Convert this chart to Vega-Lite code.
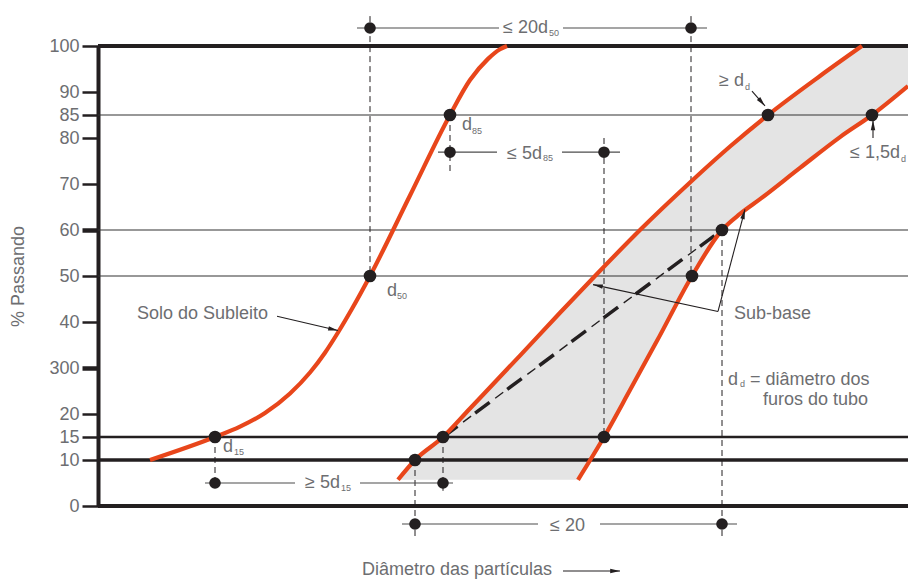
{
  "$schema": "https://vega.github.io/schema/vega-lite/v6.json",
  "width": 810,
  "height": 460,
  "autosize": {"type": "none"},
  "padding": {"left": 98, "top": 46, "right": 0, "bottom": 74},
  "background": "white",
  "config": {"view": {"stroke": null}, "text": {"font": "Liberation Sans"}},
  "datasets": {
    "curves": [
      {"c": "A", "x": 5.2, "y": 10}, {"c": "A", "x": 11.7, "y": 15}, {"c": "A", "x": 14.2, "y": 17.24}, {"c": "A", "x": 16.7, "y": 20.22},
      {"c": "A", "x": 19.2, "y": 24.46}, {"c": "A", "x": 21.2, "y": 29.02}, {"c": "A", "x": 22.7, "y": 33.33}, {"c": "A", "x": 24.0, "y": 37.72},
      {"c": "A", "x": 25.4, "y": 42.87}, {"c": "A", "x": 27.2, "y": 50}, {"c": "A", "x": 31.2, "y": 67.5},
      {"c": "A", "x": 35.2, "y": 85}, {"c": "A", "x": 37.2, "y": 92.6}, {"c": "A", "x": 39.0, "y": 97.2}, {"c": "A", "x": 40.2, "y": 99.3},
      {"c": "A", "x": 40.9, "y": 100},
      {"c": "B", "x": 30.0, "y": 5.7}, {"c": "B", "x": 31.7, "y": 10}, {"c": "B", "x": 34.5, "y": 15}, {"c": "B", "x": 37.2, "y": 21.2},
      {"c": "B", "x": 42.2, "y": 32.7}, {"c": "B", "x": 46.2, "y": 42.0}, {"c": "B", "x": 49.7, "y": 50}, {"c": "B", "x": 54.2, "y": 60},
      {"c": "B", "x": 59.2, "y": 70.33}, {"c": "B", "x": 63.2, "y": 78.15}, {"c": "B", "x": 67.0, "y": 85}, {"c": "B", "x": 72.2, "y": 93.48},
      {"c": "B", "x": 76.4, "y": 100},
      {"c": "C", "x": 48.0, "y": 5.7}, {"c": "C", "x": 50.6, "y": 15}, {"c": "C", "x": 53.2, "y": 25.2}, {"c": "C", "x": 55.9, "y": 35.9},
      {"c": "C", "x": 59.4, "y": 50}, {"c": "C", "x": 62.4, "y": 60}, {"c": "C", "x": 64.2, "y": 63.5}, {"c": "C", "x": 66.2, "y": 66.7},
      {"c": "C", "x": 70.2, "y": 73.5}, {"c": "C", "x": 74.2, "y": 80.2}, {"c": "C", "x": 77.4, "y": 85}, {"c": "C", "x": 81.0, "y": 91.3}
    ],
    "band": [
      {"y": 5.7, "xl": 30.0, "xr": 48.0}, {"y": 10, "xl": 31.7, "xr": 49.2}, {"y": 15, "xl": 34.5, "xr": 50.6},
      {"y": 20, "xl": 36.7, "xr": 51.9}, {"y": 25, "xl": 38.8, "xr": 53.2}, {"y": 30, "xl": 41.0, "xr": 54.4},
      {"y": 35, "xl": 43.2, "xr": 55.7}, {"y": 40, "xl": 45.3, "xr": 56.9}, {"y": 45, "xl": 47.5, "xr": 58.2},
      {"y": 50, "xl": 49.7, "xr": 59.4}, {"y": 55, "xl": 52.0, "xr": 60.9}, {"y": 60, "xl": 54.2, "xr": 62.4},
      {"y": 65, "xl": 56.6, "xr": 65.1}, {"y": 70, "xl": 59.0, "xr": 68.1}, {"y": 75, "xl": 61.6, "xr": 71.1},
      {"y": 80, "xl": 64.2, "xr": 74.1}, {"y": 85, "xl": 67.0, "xr": 77.4}, {"y": 90, "xl": 70.1, "xr": 80.3},
      {"y": 91.3, "xl": 70.9, "xr": 81.0}, {"y": 95, "xl": 73.2, "xr": 81.0}, {"y": 100, "xl": 76.4, "xr": 81.0}
    ],
    "grid": [
      {"level": "thin", "y": 85, "x": 0, "x2": 81}, {"level": "thin", "y": 60, "x": 0, "x2": 81}, {"level": "thin", "y": 50, "x": 0, "x2": 81},
      {"level": "l15", "y": 15, "x": 0, "x2": 81}, {"level": "l10", "y": 10, "x": 0, "x2": 81},
      {"level": "edge", "y": 0, "x": 0, "x2": 81}, {"level": "edge", "y": 100, "x": 0, "x2": 81}
    ],
    "cpoints": [
      {"x": 11.7, "y": 15}, {"x": 27.2, "y": 50}, {"x": 35.2, "y": 85},
      {"x": 31.7, "y": 10}, {"x": 34.5, "y": 15}, {"x": 67.0, "y": 85},
      {"x": 50.6, "y": 15}, {"x": 59.4, "y": 50}, {"x": 62.4, "y": 60}, {"x": 77.4, "y": 85}
    ],
    "apoints": [
      {"x": 27.2, "y": 103.91}, {"x": 59.3, "y": 103.91}, {"x": 35.2, "y": 76.91}, {"x": 50.6, "y": 76.91},
      {"x": 11.7, "y": 5.0}, {"x": 34.5, "y": 5.0}, {"x": 31.7, "y": -3.91}, {"x": 62.4, "y": -3.91}
    ],
    "vdash": [
      {"x": 27.2, "y": 106.5, "y2": 50}, {"x": 59.3, "y": 106.5, "y2": 50}, {"x": 35.2, "y": 85, "y2": 72.6},
      {"x": 50.6, "y": 80, "y2": 15}, {"x": 11.7, "y": 15, "y2": 5.0}, {"x": 34.5, "y": 15, "y2": 3.3},
      {"x": 31.7, "y": 10, "y2": -6.7}, {"x": 62.4, "y": 60, "y2": -6.7}
    ],
    "hseg": [
      {"x": 25.9, "x2": 40.1, "y": 103.91}, {"x": 46.5, "x2": 60.9, "y": 103.91},
      {"x": 34.0, "x2": 39.9, "y": 76.91}, {"x": 46.4, "x2": 52.2, "y": 76.91},
      {"x": 10.7, "x2": 19.7, "y": 5.0}, {"x": 26.2, "x2": 35.5, "y": 5.0},
      {"x": 30.4, "x2": 44.0, "y": -3.91}, {"x": 50.2, "x2": 63.9, "y": -3.91}
    ],
    "arrows": [
      {"x": 17.9, "y": 41.25, "x2": 24.0, "y2": 38.14},
      {"x": 62.0, "y": 42.29, "x2": 49.5, "y2": 48.13},
      {"x": 62.0, "y": 42.29, "x2": 64.7, "y2": 64.49},
      {"x": 65.4, "y": 90.21, "x2": 66.7, "y2": 86.96},
      {"x": 77.5, "y": 80, "x2": 77.5, "y2": 83.85},
      {"x": 46.5, "y": -14.13, "x2": 52.2, "y2": -14.13}
    ],
    "labels": [
      {"text": "≤ 20d", "x": 40.5, "y": 102.83},
      {"text": "≤ 5d", "x": 40.9, "y": 75.46},
      {"text": "≥ 5d", "x": 20.7, "y": 3.81},
      {"text": "≤ 20", "x": 45.2, "y": -5.43},
      {"text": "d", "x": 36.4, "y": 81.73},
      {"text": "d", "x": 28.9, "y": 45.63},
      {"text": "d", "x": 12.5, "y": 11.8},
      {"text": "Solo do Subleito", "x": 3.9, "y": 40.63},
      {"text": "Sub-base", "x": 63.6, "y": 40.63},
      {"text": "≥ d", "x": 62.1, "y": 91.28},
      {"text": "≤ 1,5d", "x": 75.2, "y": 75.67},
      {"text": "d", "x": 63.0, "y": 26.33},
      {"text": "= diâmetro dos", "x": 65.2, "y": 26.33},
      {"text": "furos do tubo", "x": 66.5, "y": 22.04},
      {"text": "Diâmetro das partículas", "x": 26.4, "y": -14.9}
    ],
    "subs": [
      {"text": "50", "x": 45.1, "y": 102.17},
      {"text": "85", "x": 44.5, "y": 75.05},
      {"text": "15", "x": 24.3, "y": 3.33},
      {"text": "85", "x": 37.4, "y": 80.96},
      {"text": "50", "x": 29.9, "y": 44.9},
      {"text": "15", "x": 13.6, "y": 11.0},
      {"text": "d", "x": 64.7, "y": 90.43},
      {"text": "d", "x": 80.3, "y": 74.85},
      {"text": "d", "x": 64.2, "y": 25.92}
    ]
  },
  "encoding": {
    "x": {"field": "x", "type": "quantitative", "scale": {"domain": [0, 81], "nice": false, "zero": false}, "axis": null},
    "y": {
      "field": "y", "type": "quantitative",
      "scale": {"domain": [0, 100], "nice": false, "zero": false},
      "axis": {
        "title": "% Passando",
        "values": [0, 10, 15, 20, 30, 40, 50, 60, 70, 80, 85, 90, 100],
        "labelExpr": "datum.value == 30 ? '300' : datum.label",
        "grid": false,
        "domainColor": "#231f20", "domainWidth": 4,
        "tickColor": "#231f20", "tickSize": 16,
        "tickWidth": {"condition": {"test": "datum.value == 30 || datum.value == 60", "value": 4.5}, "value": 2.5},
        "labelFont": "Liberation Sans", "labelFontSize": 18, "labelColor": "#6d6e71", "labelPadding": 3,
        "titleFont": "Liberation Sans", "titleFontSize": 18, "titleFontWeight": "normal", "titleColor": "#6d6e71",
        "titleAngle": 270, "titleX": -80, "titleY": 230, "titleAlign": "center", "titleBaseline": "middle"
      }
    }
  },
  "layer": [
    {
      "data": {"name": "band"},
      "mark": {"type": "area", "orient": "horizontal", "color": "#e4e4e4"},
      "encoding": {
        "x": {"field": "xl", "type": "quantitative", "scale": {"domain": [0, 81], "nice": false, "zero": false}, "axis": null},
        "x2": {"field": "xr"}
      }
    },
    {
      "data": {"name": "grid"},
      "transform": [{"filter": "datum.level == 'thin'"}],
      "mark": {"type": "rule", "color": "#333333", "strokeWidth": 1.2},
      "encoding": {"x2": {"field": "x2"}}
    },
    {
      "data": {"name": "grid"},
      "transform": [{"filter": "datum.level == 'l15'"}],
      "mark": {"type": "rule", "color": "#231f20", "strokeWidth": 2.7},
      "encoding": {"x2": {"field": "x2"}}
    },
    {
      "data": {"name": "grid"},
      "transform": [{"filter": "datum.level == 'l10'"}],
      "mark": {"type": "rule", "color": "#231f20", "strokeWidth": 3.3},
      "encoding": {"x2": {"field": "x2"}}
    },
    {
      "data": {"name": "grid"},
      "transform": [{"filter": "datum.level == 'edge'"}],
      "mark": {"type": "rule", "color": "#231f20", "strokeWidth": 4},
      "encoding": {"x2": {"field": "x2"}}
    },
    {
      "data": {"name": "vdash"},
      "mark": {"type": "rule", "color": "#231f20", "strokeWidth": 1, "strokeDash": [6, 4]},
      "encoding": {"y2": {"field": "y2"}}
    },
    {
      "data": {"name": "hseg"},
      "mark": {"type": "rule", "color": "#4d4d4d", "strokeWidth": 1.2},
      "encoding": {"x2": {"field": "x2"}}
    },
    {
      "data": {"values": [{"x": 34.5, "y": 15}, {"x": 62.4, "y": 60}]},
      "mark": {"type": "line", "color": "#231f20", "strokeWidth": 3.5, "strokeDash": [18, 22]},
      "encoding": {}
    },
    {
      "data": {"values": [{"x": 34.5, "y": 15}, {"x": 62.4, "y": 60}]},
      "mark": {"type": "line", "color": "#231f20", "strokeWidth": 1.4, "strokeDash": [10, 30], "strokeDashOffset": 15},
      "encoding": {}
    },
    {
      "data": {"name": "curves"},
      "mark": {"type": "line", "color": "#e8461b", "strokeWidth": 4.2, "interpolate": "monotone"},
      "encoding": {"detail": {"field": "c"}}
    },
    {
      "data": {"name": "cpoints"},
      "mark": {"type": "circle", "color": "#231f20", "opacity": 1, "size": 160},
      "encoding": {}
    },
    {
      "data": {"name": "apoints"},
      "mark": {"type": "circle", "color": "#231f20", "opacity": 1, "size": 135},
      "encoding": {}
    },
    {
      "data": {"name": "arrows"},
      "mark": {"type": "rule", "color": "#231f20", "strokeWidth": 1.1},
      "encoding": {"x2": {"field": "x2"}, "y2": {"field": "y2"}}
    },
    {
      "data": {"values": [{"x": 24.0, "y": 38.14}]},
      "mark": {"type": "point", "shape": "M0,0L0.5,2.2L-0.5,2.2Z", "filled": true, "opacity": 1, "size": 80, "angle": 103, "color": "#231f20"},
      "encoding": {}
    },
    {
      "data": {"values": [{"x": 49.5, "y": 48.13}]},
      "mark": {"type": "point", "shape": "M0,0L0.5,2.2L-0.5,2.2Z", "filled": true, "opacity": 1, "size": 80, "angle": 282, "color": "#231f20"},
      "encoding": {}
    },
    {
      "data": {"values": [{"x": 64.7, "y": 64.49}]},
      "mark": {"type": "point", "shape": "M0,0L0.5,2.2L-0.5,2.2Z", "filled": true, "opacity": 1, "size": 80, "angle": 15, "color": "#231f20"},
      "encoding": {}
    },
    {
      "data": {"values": [{"x": 66.7, "y": 86.96}]},
      "mark": {"type": "point", "shape": "M0,0L0.5,2.2L-0.5,2.2Z", "filled": true, "opacity": 1, "size": 80, "angle": 139, "color": "#231f20"},
      "encoding": {}
    },
    {
      "data": {"values": [{"x": 77.5, "y": 83.85}]},
      "mark": {"type": "point", "shape": "M0,0L0.5,2.2L-0.5,2.2Z", "filled": true, "opacity": 1, "size": 80, "angle": 0, "color": "#231f20"},
      "encoding": {}
    },
    {
      "data": {"values": [{"x": 52.2, "y": -14.13}]},
      "mark": {"type": "point", "shape": "M0,0L0.5,2.2L-0.5,2.2Z", "filled": true, "opacity": 1, "size": 80, "angle": 90, "color": "#231f20"},
      "encoding": {}
    },
    {
      "data": {"name": "labels"},
      "mark": {"type": "text", "align": "left", "baseline": "alphabetic", "font": "Liberation Sans", "fontSize": 18, "color": "#6d6e71"},
      "encoding": {"text": {"field": "text"}}
    },
    {
      "data": {"name": "subs"},
      "mark": {"type": "text", "align": "left", "baseline": "alphabetic", "font": "Liberation Sans", "fontSize": 9, "color": "#6d6e71"},
      "encoding": {"text": {"field": "text"}}
    }
  ]
}
